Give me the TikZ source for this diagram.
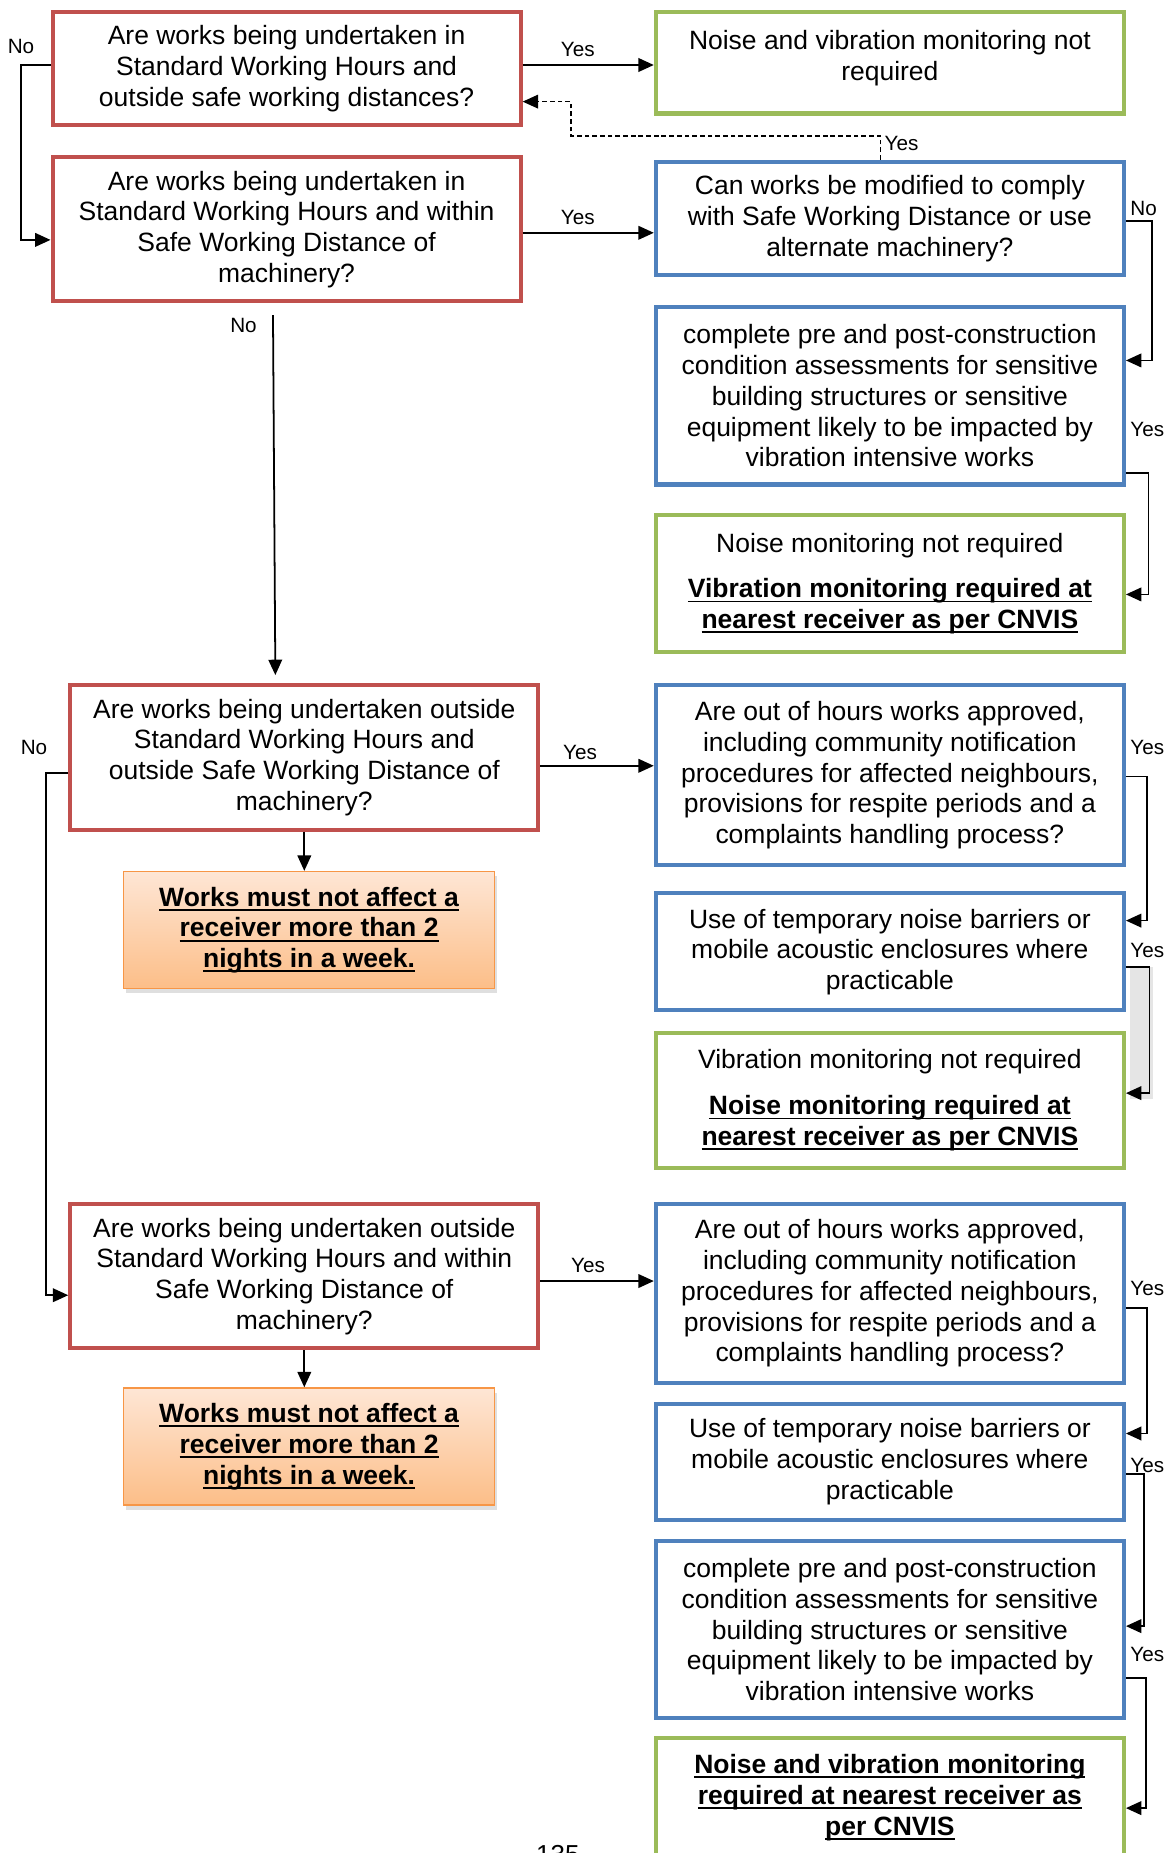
\documentclass[tikz,border=0pt]{standalone}
\usepackage{fontspec}
\setmainfont{Liberation Sans}
\usetikzlibrary{arrows.meta,shadows}
\definecolor{boxred}{HTML}{C0504D}
\definecolor{boxblue}{HTML}{4F81BD}
\definecolor{boxgreen}{HTML}{9BBB59}
\definecolor{boxorange}{HTML}{F79646}
\definecolor{peachtop}{HTML}{FEE6D5}
\definecolor{peachbottom}{HTML}{FCBE88}
\newsavebox{\ulbox}
\newcommand{\bolduline}[1]{\sbox{\ulbox}{\bfseries #1}\rlap{\usebox{\ulbox}}\rule[-4pt]{\wd\ulbox}{1.6pt}}

\begin{document}
\begin{tikzpicture}[x=1pt,y=-1pt,
  box/.style={draw, line width=3.5pt, minimum width=396pt, inner sep=0pt, align=center, font=\fontsize{22.4}{26}\selectfont},
  redbox/.style={box, draw=boxred},
  bluebox/.style={box, draw=boxblue},
  greenbox/.style={box, draw=boxgreen},
  warnbox/.style={draw=boxorange, line width=1.2pt, top color=peachtop, bottom color=peachbottom, minimum width=314pt, minimum height=99pt, inner sep=0pt, align=center, font=\fontsize{22.4}{26}\selectfont, drop shadow={shadow xshift=2pt, shadow yshift=-4pt, opacity=0.25}},
  arr/.style={-{Triangle[length=13pt,width=11.5pt]}, line width=1.5pt},
  lbl/.style={font=\fontsize{17.5}{20}\selectfont, inner sep=1pt}]
\useasboundingbox (0,0) rectangle (990,1568);
\fill[gray!20] (956,818) rectangle (976,930);

\node[redbox, minimum height=96pt] (q1) at (242.5,58) {Are works being undertaken in\\Standard Working Hours and\\outside safe working distances?};
\node[redbox, minimum height=122pt] (q2) at (242.5,194) {Are works being undertaken in\\Standard Working Hours and within\\Safe Working Distance of\\machinery?};
\node[redbox, minimum height=122pt] (q3) at (257.5,641) {Are works being undertaken outside\\Standard Working Hours and\\outside Safe Working Distance of\\machinery?};
\node[redbox, minimum height=122pt] (q4) at (257.5,1080) {Are works being undertaken outside\\Standard Working Hours and within\\Safe Working Distance of\\machinery?};
\node[warnbox] (w1) at (261.5,787) {\bolduline{Works must not affect a}\\\bolduline{receiver more than 2}\\\bolduline{nights in a week.}};
\node[warnbox] (w2) at (261.5,1224) {\bolduline{Works must not affect a}\\\bolduline{receiver more than 2}\\\bolduline{nights in a week.}};

\node[greenbox, minimum height=86pt, text depth=12pt] (g1) at (753,53) {Noise and vibration monitoring not\\required};
\node[bluebox, minimum height=96pt] (b1) at (753,185) {Can works be modified to comply\\with Safe Working Distance or use\\alternate machinery?};
\node[bluebox, minimum height=150pt] (b2) at (753,335) {complete pre and post-construction\\condition assessments for sensitive\\building structures or sensitive\\equipment likely to be impacted by\\vibration intensive works};
\node[greenbox, minimum height=116pt] (g2) at (753,494) {Noise monitoring not required\\[12pt]\bolduline{Vibration monitoring required at}\\\bolduline{nearest receiver as per CNVIS}};
\node[bluebox, minimum height=152pt] (b3) at (753,656) {Are out of hours works approved,\\including community notification\\procedures for affected neighbours,\\provisions for respite periods and a\\complaints handling process?};
\node[bluebox, minimum height=99pt] (b4) at (753,805.5) {Use of temporary noise barriers or\\mobile acoustic enclosures where\\practicable};
\node[greenbox, minimum height=114pt] (g3) at (753,931) {Vibration monitoring not required\\[13pt]\bolduline{Noise monitoring required at}\\\bolduline{nearest receiver as per CNVIS}};
\node[bluebox, minimum height=151pt] (b5) at (753,1094.5) {Are out of hours works approved,\\including community notification\\procedures for affected neighbours,\\provisions for respite periods and a\\complaints handling process?};
\node[bluebox, minimum height=98pt] (b6) at (753,1237) {Use of temporary noise barriers or\\mobile acoustic enclosures where\\practicable};
\node[bluebox, minimum height=150pt] (b7) at (753,1379) {complete pre and post-construction\\condition assessments for sensitive\\building structures or sensitive\\equipment likely to be impacted by\\vibration intensive works};
\node[greenbox, minimum height=100pt] (g4) at (753,1521) {\bolduline{Noise and vibration monitoring}\\\bolduline{required at nearest receiver as}\\\bolduline{per CNVIS}};
\node[font=\fontsize{22}{26}\selectfont, anchor=base] (page) at (472,1577) {135};

\draw[arr] ([yshift=3pt]q1.east) -- node[lbl, above=5pt, pos=0.42] {Yes} ([yshift=3pt]q1.east -| g1.west);
\draw[arr] ([yshift=-3pt]q2.east) -- node[lbl, above=5pt, pos=0.42] {Yes} ([yshift=-3pt]q2.east -| b1.west);
\draw[arr] ([yshift=-7pt]q3.east) -- node[lbl, above=3pt, pos=0.35] {Yes} ([yshift=-7pt]q3.east -| b3.west);
\draw[arr] ([yshift=-4pt]q4.east) -- node[lbl, above=5pt, pos=0.42] {Yes} ([yshift=-4pt]q4.east -| b5.west);
\draw[arr, dash pattern=on 4pt off 2.5pt, line width=1.2pt] ([xshift=-8pt]b1.north) node[lbl, anchor=south west, xshift=2pt, yshift=6pt] {Yes} |- (483,115) |- ([yshift=-28pt]q1.east);

\draw[arr] ([yshift=3pt]q1.west) -- ++(-25,0) node[lbl, above=8pt] {No} |- ([yshift=-9pt]q2.west);
\draw[arr] ([xshift=-11.5pt,yshift=-10pt]q2.south) node[lbl, anchor=north east, xshift=-12pt, yshift=-1pt] {No} -- ([xshift=-24.5pt,yshift=7pt]q3.north);
\draw[arr] ([yshift=-13pt]q3.west) -- ++(-19,0) node[lbl, above=14pt, xshift=-10pt] {No} |- ([yshift=-16pt]q4.west);
\draw[arr] (q3.south) -- (q3.south |- w1.north);
\draw[arr] (q4.south) -- (q4.south |- w2.north);

\draw[arr] ([yshift=-2pt]b1.east) node[lbl, above right, xshift=2pt, yshift=3pt] {No} -- ++(22,0) |- ([yshift=30pt]b2.east);
\draw[arr] ([yshift=-65pt]b2.east) node[lbl, above right, xshift=2pt, yshift=29pt] {Yes} -- ++(19,0) |- ([yshift=-9pt]g2.east);
\draw[arr] ([yshift=-1pt]b3.east) node[lbl, above right, xshift=2pt, yshift=17pt] {Yes} -- ++(18,0) |- ([yshift=26.5pt]b4.east);
\draw[arr] ([yshift=-12.5pt]b4.east) node[lbl, above right, xshift=2pt, yshift=6pt] {Yes} -- ++(20,0) |- ([yshift=6pt]g3.east);
\draw[arr] ([yshift=-12.5pt]b5.east) node[lbl, above right, xshift=2pt, yshift=9pt] {Yes} -- ++(18,0) |- ([yshift=24pt]b6.east);
\draw[arr] ([yshift=-10pt]b6.east) node[lbl, above right, xshift=2pt, yshift=-1pt] {Yes} -- ++(15,0) |- ([yshift=3pt]b7.east);
\draw[arr] ([yshift=-41pt]b7.east) node[lbl, above right, xshift=2pt, yshift=12pt] {Yes} -- ++(17,0) |- ([yshift=-9pt]g4.east);
\end{tikzpicture}
\end{document}
